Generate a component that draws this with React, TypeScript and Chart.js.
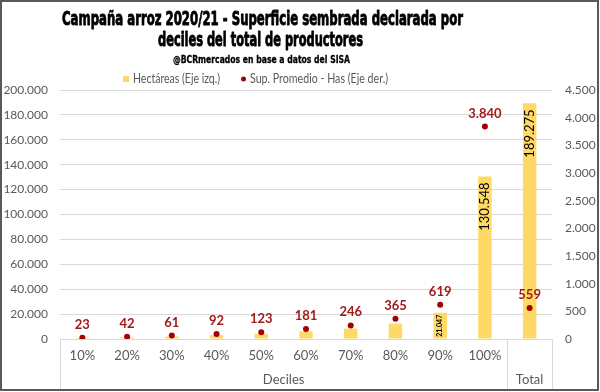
import React, { useEffect, useRef } from 'react';
import { Chart, registerables } from 'chart.js';

Chart.register(...registerables);

const categories = ['10%', '20%', '30%', '40%', '50%', '60%', '70%', '80%', '90%', '100%', 'Total'];
const hectareas = [780, 1430, 2070, 3130, 4180, 6150, 8360, 12410, 21047, 130548, 189275];
const supPromedio = [23, 42, 61, 92, 123, 181, 246, 365, 619, 3840, 559];
const leftMax = 200000;
const leftStep = 20000;
const rightMax = 4500;
const rightStep = 500;
const titleLines = ['Campaña arroz 2020/21 - Superficie sembrada declarada por', 'deciles del total de productores'];
const subtitle = '@BCRmercados en base a datos del SISA';
const legendLabels = ['Hectáreas (Eje izq.)', 'Sup. Promedio - Has (Eje der.)'];
const groupLabels = [
  { label: 'Deciles', from: 0, to: 9 },
  { label: 'Total', from: 10, to: 10 },
];
const hiddenTickLabels = ['Total'];
const bigBarLabels = [9, 10];
const smallBarLabels = [8];

const BAR_COLOR = '#FFD966';
const DOT_COLOR = '#A50000';
const DOT_LABEL_COLOR = '#A01A1A';
const GRID = '#D9D9D9';
const AXIS_TEXT = '#595959';
const BODY_FONT = "Lato, 'Open Sans', sans-serif";
const TITLE_FONT = "'Liberation Sans Narrow', 'DejaVu Sans Condensed', 'Liberation Sans', sans-serif";

function fmt(n: number): string {
  return String(Math.round(n)).replace(/\B(?=(\d{3})+(?!\d))/g, '.');
}

function fitText(ctx: CanvasRenderingContext2D, text: string, x: number, y: number, width: number, font: string, align: 'center' | 'left', stroke = 0) {
  ctx.save();
  ctx.font = font;
  const w = ctx.measureText(text).width;
  const s = width / w;
  ctx.translate(x, y);
  ctx.scale(s, 1);
  ctx.textAlign = align;
  ctx.fillText(text, 0, 0);
  if (stroke > 0) {
    ctx.strokeStyle = ctx.fillStyle as string;
    ctx.lineWidth = stroke;
    ctx.lineJoin = 'round';
    ctx.strokeText(text, 0, 0);
  }
  ctx.restore();
}

const decorPlugin = {
  id: 'decor',
  beforeDraw(chart: any) {
    const { ctx, width, height } = chart;
    ctx.save();
    ctx.fillStyle = '#FFFFFF';
    ctx.fillRect(0, 0, width, height);
    ctx.restore();
  },
  afterDraw(chart: any) {
    const { ctx, chartArea: ca, scales } = chart;
    const xs = scales.x;
    ctx.save();
    // Title
    ctx.fillStyle = '#000000';
    ctx.textBaseline = 'alphabetic';
    fitText(ctx, titleLines[0], 262.5, 25, 401, `bold 19px ${TITLE_FONT}`, 'center', 0.8);
    fitText(ctx, titleLines[1], 260.5, 46, 205, `bold 19px ${TITLE_FONT}`, 'center', 0.8);
    fitText(ctx, subtitle, 261.5, 63, 177, `bold 11px ${TITLE_FONT}`, 'center', 0.3);

    // Legend
    ctx.fillStyle = BAR_COLOR;
    ctx.fillRect(123, 76, 6, 6);
    ctx.fillStyle = AXIS_TEXT;
    ctx.textBaseline = 'middle';
    fitText(ctx, legendLabels[0], 133, 79, 87, `13px ${BODY_FONT}`, 'left');
    ctx.fillStyle = DOT_COLOR;
    ctx.beginPath();
    ctx.arc(243.5, 79, 2.5, 0, Math.PI * 2);
    ctx.fill();
    ctx.fillStyle = AXIS_TEXT;
    fitText(ctx, legendLabels[1], 250, 79, 138, `13px ${BODY_FONT}`, 'left');

    // Separators for category groups
    const step = xs.getPixelForValue(1) - xs.getPixelForValue(0);
    ctx.strokeStyle = GRID;
    ctx.lineWidth = 1;
    const bottom = 389;
    const edges: number[] = [];
    groupLabels.forEach((g) => {
      edges.push(xs.getPixelForValue(g.from) - step / 2);
    });
    edges.push(xs.getPixelForValue(groupLabels[groupLabels.length - 1].to) + step / 2);
    edges.forEach((ex) => {
      const px = Math.round(ex) + 0.5;
      ctx.beginPath();
      ctx.moveTo(px, ca.bottom);
      ctx.lineTo(px, bottom);
      ctx.stroke();
    });
    ctx.fillStyle = AXIS_TEXT;
    ctx.font = `13px ${BODY_FONT}`;
    ctx.textAlign = 'center';
    ctx.textBaseline = 'middle';
    groupLabels.forEach((g) => {
      const cx = (xs.getPixelForValue(g.from) + xs.getPixelForValue(g.to)) / 2;
      ctx.fillText(g.label, cx, 380);
    });

    // Dot labels
    const dotMeta = chart.getDatasetMeta(1);
    ctx.fillStyle = DOT_LABEL_COLOR;
    ctx.font = `bold 13px ${BODY_FONT}`;
    ctx.textAlign = 'center';
    ctx.textBaseline = 'alphabetic';
    dotMeta.data.forEach((pt: any, i: number) => {
      ctx.fillText(fmt(supPromedio[i]), pt.x, pt.y - 9);
    });

    // Bar labels (rotated)
    const barMeta = chart.getDatasetMeta(0);
    ctx.fillStyle = '#000000';
    bigBarLabels.forEach((i) => {
      const b = barMeta.data[i];
      ctx.save();
      ctx.translate(b.x, b.y + 6);
      ctx.rotate(-Math.PI / 2);
      ctx.font = `13px ${BODY_FONT}`;
      ctx.textAlign = 'right';
      ctx.textBaseline = 'middle';
      ctx.fillText(fmt(hectareas[i]), 0, 0);
      ctx.restore();
    });
    smallBarLabels.forEach((i) => {
      const b = barMeta.data[i];
      ctx.save();
      ctx.translate(b.x, b.y + 2);
      ctx.rotate(-Math.PI / 2);
      ctx.font = `bold 7px ${BODY_FONT}`;
      ctx.textAlign = 'right';
      ctx.textBaseline = 'middle';
      ctx.fillText(fmt(hectareas[i]), 0, 0);
      ctx.restore();
    });

    // Outer border
    ctx.strokeStyle = '#595959';
    ctx.lineWidth = 2;
    ctx.strokeRect(1, 1, 597, 389);
    ctx.restore();
  },
};

export default function App() {
  const canvasRef = useRef<HTMLCanvasElement | null>(null);

  useEffect(() => {
    if (!canvasRef.current) return;
    const chart = new Chart(canvasRef.current, {
      type: 'bar',
      data: {
        labels: categories,
        datasets: [
          {
            type: 'bar',
            label: legendLabels[0],
            data: hectareas,
            backgroundColor: BAR_COLOR,
            borderWidth: 0,
            barPercentage: 0.3,
            categoryPercentage: 1,
            yAxisID: 'y',
            order: 1,
          },
          {
            type: 'line',
            label: legendLabels[1],
            data: supPromedio,
            showLine: false,
            pointRadius: 3,
            pointBackgroundColor: DOT_COLOR,
            pointBorderColor: DOT_COLOR,
            pointBorderWidth: 0,
            yAxisID: 'y1',
            order: 0,
          } as any,
        ],
      },
      options: {
        animation: false,
        responsive: false,
        devicePixelRatio: 1,
        layout: { padding: { top: 90, left: 0, right: 0, bottom: 0 } },
        plugins: {
          legend: { display: false },
          title: { display: false },
          tooltip: { enabled: false },
        },
        scales: {
          x: {
            offset: true,
            grid: { display: false, drawTicks: false },
            border: { display: true, color: GRID },
            ticks: {
              color: AXIS_TEXT,
              font: { family: BODY_FONT, size: 13 },
              padding: 9,
              maxRotation: 0,
              autoSkip: false,
              callback: (v: any, i: number) => (hiddenTickLabels.includes(categories[i]) ? '' : categories[i]),
            },
            afterFit: (s: any) => {
              s.height = 53;
            },
          },
          y: {
            position: 'left',
            min: 0,
            max: leftMax,
            ticks: {
              stepSize: leftStep,
              color: AXIS_TEXT,
              font: { family: BODY_FONT, size: 12 },
              padding: 12,
              callback: (v: any) => fmt(Number(v)),
            },
            grid: { color: GRID, drawTicks: false },
            border: { display: false },
            afterFit: (s: any) => {
              s.width = 60;
            },
          },
          y1: {
            position: 'right',
            min: 0,
            max: rightMax,
            ticks: {
              stepSize: rightStep,
              color: AXIS_TEXT,
              font: { family: BODY_FONT, size: 12 },
              padding: 13,
              callback: (v: any) => fmt(Number(v)),
            },
            grid: { display: false, drawTicks: false },
            border: { display: false },
            afterFit: (s: any) => {
              s.width = 48;
            },
          },
        },
      } as any,
      plugins: [decorPlugin],
    });
    return () => chart.destroy();
  }, []);

  return (
    <div style={{ position: 'absolute', left: 0, top: 0, width: 600, height: 392 }}>
      <canvas ref={canvasRef} width={600} height={392} style={{ width: 600, height: 392, display: 'block' }} />
    </div>
  );
}
